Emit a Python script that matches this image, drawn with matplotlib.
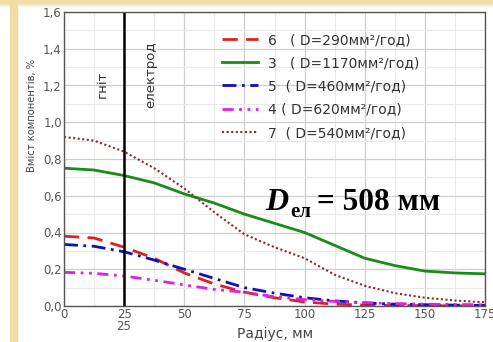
import matplotlib
matplotlib.use("Agg")
import matplotlib.pyplot as plt
from matplotlib.patches import Rectangle
from matplotlib.ticker import MultipleLocator, FuncFormatter

plt.rcParams['font.family'] = ['DejaVu Sans']

radius = [0, 12.5, 25, 37.5, 50, 62.5, 75, 87.5, 100, 112.5, 125, 137.5, 150, 162.5, 175]
s6 = [0.38, 0.37, 0.32, 0.26, 0.18, 0.12, 0.075, 0.045, 0.022, 0.01, 0.005, 0.003, 0.002, 0.001, 0.0]
s3 = [0.75, 0.74, 0.71, 0.67, 0.61, 0.56, 0.50, 0.45, 0.40, 0.33, 0.26, 0.22, 0.19, 0.18, 0.175]
s5 = [0.335, 0.325, 0.295, 0.25, 0.20, 0.15, 0.10, 0.07, 0.045, 0.028, 0.017, 0.01, 0.007, 0.005, 0.003]
s4 = [0.183, 0.178, 0.163, 0.14, 0.115, 0.09, 0.075, 0.05, 0.035, 0.025, 0.018, 0.013, 0.01, 0.008, 0.007]
s7 = [0.92, 0.90, 0.84, 0.75, 0.64, 0.51, 0.39, 0.32, 0.26, 0.17, 0.11, 0.07, 0.045, 0.03, 0.02]

labels = ["6   ( D=290мм²/год)", "3   ( D=1170мм²/год)", "5  ( D=460мм²/год)",
          "4 ( D=620мм²/год)", "7  ( D=540мм²/год)"]

W, H = 493, 342
fig = plt.figure(figsize=(W / 100, H / 100), dpi=100)
fig.patch.set_facecolor('white')

beige = '#f2dca4'
fig.patches.append(Rectangle((10 / W, 0), 7 / W, 1, transform=fig.transFigure, color=beige, zorder=0))
for i, a in enumerate([0.9, 0.7, 0.5, 0.35, 0.2, 0.1, 0.05]):
    fig.patches.append(Rectangle((0, 1 - (i + 1) / H), 1, 1 / H, transform=fig.transFigure,
                                 color=beige, alpha=a, zorder=0))

ax = fig.add_axes([64 / W, 1 - 306 / H, (485 - 64) / W, (306 - 12) / H])
ax.set_xlim(0, 175)
ax.set_ylim(0, 1.6)
ax.xaxis.set_major_locator(MultipleLocator(25))
ax.yaxis.set_major_locator(MultipleLocator(0.2))
ax.xaxis.set_minor_locator(MultipleLocator(12.5))
ax.yaxis.set_minor_locator(MultipleLocator(0.1))
ax.grid(which='major', color='#cfcfcf', lw=0.9)
ax.grid(which='minor', color='#e9e9e9', lw=0.8)
ax.set_axisbelow(True)
ax.yaxis.set_major_formatter(FuncFormatter(lambda v, p: f"{v:.1f}".replace('.', ',')))
ax.tick_params(which='both', length=0, labelsize=8.5, labelcolor='#555555', pad=1.5)
for sp in ax.spines.values():
    sp.set_color('#555555')
    sp.set_linewidth(1.0)

ax.plot(radius, s6, color='#e02020', lw=2, ls=(0, (5.5, 3)), label=labels[0])
ax.plot(radius, s3, color='#1a8a1a', lw=2, ls='-', label=labels[1])
ax.plot(radius, s5, color='#1010b8', lw=2, ls=(0, (5, 2, 1, 2)), label=labels[2])
ax.plot(radius, s4, color='#e020e0', lw=2, ls=(0, (4, 2, 1, 2, 1, 2)), label=labels[3])
ax.plot(radius, s7, color='#8b2a2a', lw=1.5, ls=(0, (1, 1.2)), label=labels[4])

ax.axvline(25, color='black', lw=1.8)
ax.text(15.7, 1.205, 'гніт', rotation=90, ha='center', va='center', fontsize=9.5, color='#333333')
ax.text(36.2, 1.26, 'електрод', rotation=90, ha='center', va='center', fontsize=9.5, color='#333333')

fig.text(275 / W, 1 - 334 / H, 'Радіус, мм', ha='center', va='center', fontsize=10, color='#444444')
fig.text(32 / W, 1 - 115 / H, 'Вміст компонентів, %', ha='center', va='center', rotation=90,
         fontsize=7.2, color='#444444')
fig.text(124 / W, 1 - 326 / H, '25', ha='center', va='center', fontsize=8.5, color='#555555')

leg = ax.legend(loc='upper left', bbox_to_anchor=(222 / W, 1 - 33 / H), bbox_transform=fig.transFigure,
                frameon=False, fontsize=10, handlelength=2.6, handletextpad=0.7, labelspacing=0.66,
                borderpad=0, borderaxespad=0)
for t in leg.get_texts():
    t.set_color('#333333')

serif = ['Liberation Serif', 'DejaVu Serif']
fig.text(265 / W, 1 - 210 / H, 'D', fontsize=23, fontweight='bold', style='italic', family=serif,
         ha='left', va='baseline')
fig.text(290 / W, 1 - 217 / H, 'ел', fontsize=15, fontweight='bold', family=serif,
         ha='left', va='baseline')
fig.text(317 / W, 1 - 210 / H, '= 508 мм', fontsize=22.5, fontweight='bold', family=serif,
         ha='left', va='baseline')

fig.savefig('out.png', dpi=100, facecolor=fig.get_facecolor())
